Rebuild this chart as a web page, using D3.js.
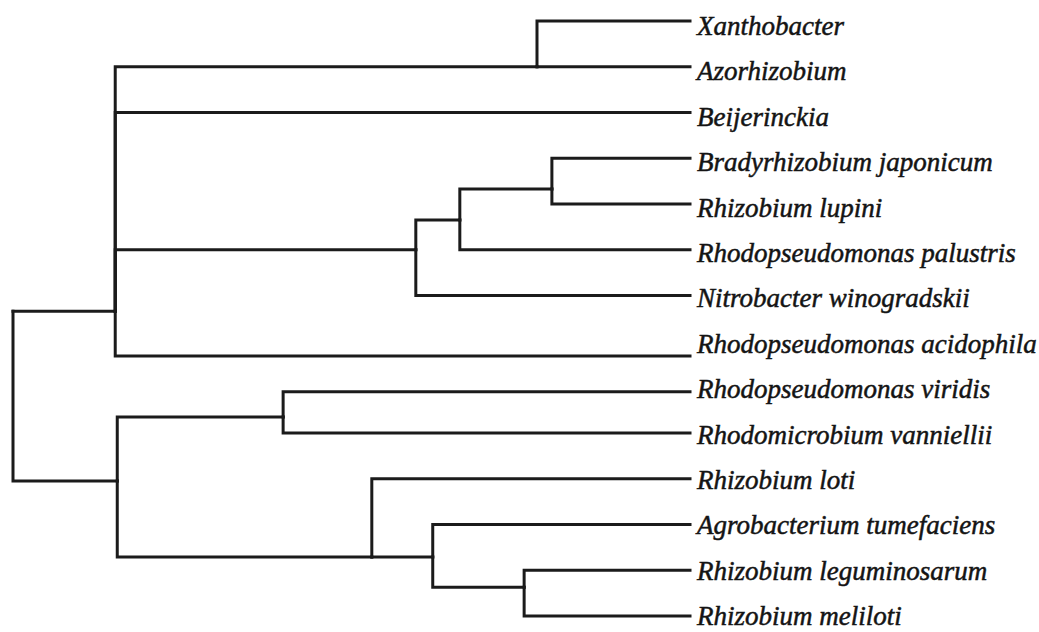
<!DOCTYPE html>
<html>
<head>
<meta charset="utf-8">
<script src="https://cdn.jsdelivr.net/npm/d3@7"></script>
<style>
  body { margin: 0; background: white; }
</style>
</head>
<body>
<script>
let w = 1039;
let h = 632;

// leaves, top to bottom
const taxa = ["Xanthobacter", "Azorhizobium", "Beijerinckia", "Bradyrhizobium japonicum",
  "Rhizobium lupini", "Rhodopseudomonas palustris", "Nitrobacter winogradskii",
  "Rhodopseudomonas acidophila", "Rhodopseudomonas viridis", "Rhodomicrobium vanniellii",
  "Rhizobium loti", "Agrobacterium tumefaciens", "Rhizobium leguminosarum", "Rhizobium meliloti"];
const taxaParent = ["xa", "xa", "top", "bl", "bl", "blp", "blpn", "top", "rv", "rv", "lo", "at", "lm", "lm"];
const taxaRow = [0, 1, 2, 3, 4, 5, 6, 7.32, 8.1, 9, 10, 11, 12, 13];

// internal nodes
const clades = ["root", "top", "bottom", "xa", "blpn", "blp", "bl", "rv", "lo", "at", "lm"];
const cladeParent = [null, "root", "root", "top", "top", "blpn", "blp", "bottom", "bottom", "lo", "at"];
const cladeDist = [0, 15.1, 15.4, 77.4, 59.5, 66.0, 79.6, 39.9, 53.0, 62.0, 75.5];
const cladeRow = [6.34, 6.34, 10.05, 1, 5.0, 4.35, 3.67, 8.65, 11.71, 11.71, 12.37];

const leafDist = 100;

let table = clades.map(function (c, i) {
  return { id: c, parent: cladeParent[i], dist: cladeDist[i], row: cladeRow[i] };
}).concat(taxa.map(function (t, i) {
  return { id: t, parent: taxaParent[i], dist: leafDist, row: taxaRow[i], leaf: true, idx: i };
}));

let root = d3.stratify()
  .id(function (d) { return d.id })
  .parentId(function (d) { return d.parent })(table);

const x = d3.scaleLinear().domain([0, 100]).range([13, 690]);
const y = d3.scaleLinear().domain([0, 13]).range([21, 616]);

const svg = d3.select('body')
  .append('svg')
  .attr('width', w)
  .attr('height', h)
  .style("background-color", "white");

// elbow links: down/up at the parent, then across to the child
svg.append('g')
  .selectAll('path')
  .data(root.links())
  .enter()
  .append('path')
  .attr('d', function (l) {
    return 'M' + x(l.source.data.dist) + ',' + y(l.source.data.row) +
      'V' + y(l.target.data.row) + 'H' + x(l.target.data.dist);
  })
  .attr('fill', 'none')
  .attr('stroke', '#1b1b1b')
  .attr('stroke-width', 3)
  .attr('stroke-linecap', 'square');

// labels sit on an even grid of their own
svg.append('g')
  .selectAll('text')
  .data(root.leaves())
  .enter()
  .append('text')
  .attr('x', x(leafDist) + 7)
  .attr('y', function (d) { return y(d.data.idx) + 14 - d.data.idx * 0.38 })
  .text(function (d) { return d.data.id })
  .style('font-family', '"Liberation Serif", "Times New Roman", serif')
  .style('font-style', 'italic')
  .style('font-size', '27px')
  .style('fill', '#141414')
  .style('stroke', '#141414')
  .style('stroke-width', 0.5);
</script>
</body>
</html>
